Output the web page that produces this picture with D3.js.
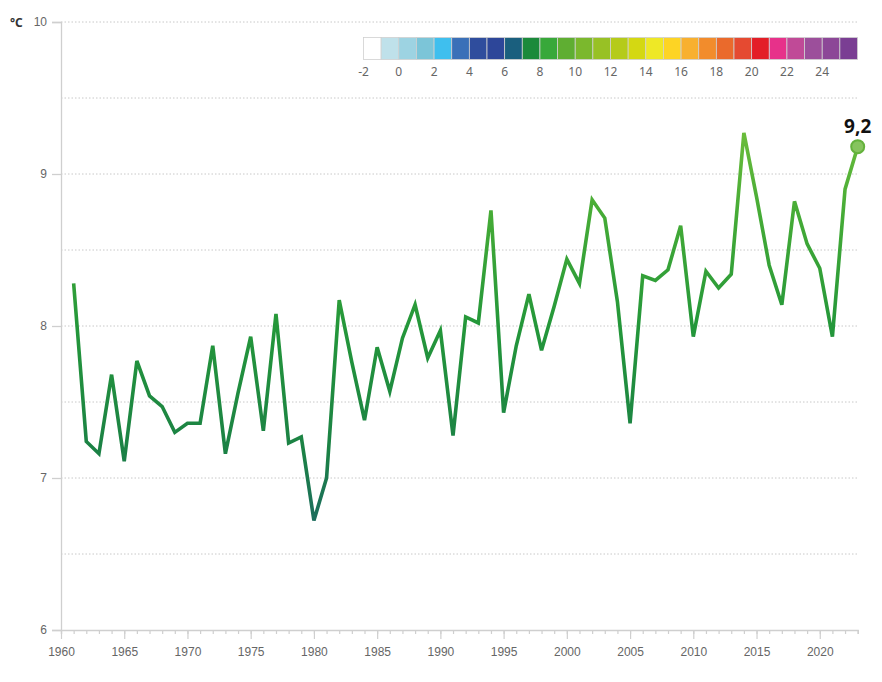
<!DOCTYPE html>
<html>
<head>
<meta charset="utf-8">
<script src="https://cdn.jsdelivr.net/npm/d3@7"></script>
<style>
  html, body { margin: 0; padding: 0; background: #ffffff; }
  svg { display: block; font-family: "Noto Sans", "Open Sans", sans-serif; }
</style>
</head>
<body>
<svg id="chart" width="882" height="682"></svg>
<script>
// ---- data ----
const years = d3.range(1961, 2024);
const temps = [
  8.28, 7.24, 7.16, 7.68, 7.11, 7.77, 7.54, 7.47, 7.30, 7.36,
  7.36, 7.87, 7.16, 7.56, 7.93, 7.31, 8.08, 7.23, 7.27, 6.72,
  7.00, 8.17, 7.76, 7.38, 7.86, 7.57, 7.92, 8.14, 7.79, 7.97,
  7.28, 8.06, 8.02, 8.76, 7.43, 7.87, 8.21, 7.84, 8.13, 8.44,
  8.28, 8.83, 8.71, 8.16, 7.36, 8.33, 8.30, 8.37, 8.66, 7.93,
  8.36, 8.25, 8.34, 9.27, 8.85, 8.40, 8.14, 8.82, 8.54, 8.38,
  7.93, 8.90, 9.18
];
const yTicks = [6, 7, 8, 9, 10];
const xTickYears = d3.range(1960, 2021, 5);
const lastLabel = "9,2";
const unitLabel = "°C";
const legendBreaks = d3.range(-2, 27);          // boundaries -2 ... 26
const legendLabels = d3.range(-2, 25, 2);        // -2, 0, ..., 24
const legendColors = [
  "#ffffff", "#bfe1ea", "#9dd3e2", "#7cc5d8", "#3fbfee", "#3a70b8", "#2f4d9d",
  "#2d4699", "#1a5f7e", "#1b8a3b", "#38a83a", "#5fae32", "#7bb82d", "#98c125",
  "#b5cb1a", "#d4d812", "#eee826", "#fdd424", "#f8b02f", "#f28c2c", "#ea6a2c",
  "#e54a31", "#e31e27", "#e7318a", "#c04a97", "#9c4f9b", "#8c4797", "#7a3e93"
];

// ---- scales ----
const svg = d3.select("#chart");
const x = d3.scaleLinear().domain([1960, 2023]).range([61, 857.7]);
const y = d3.scaleLinear().domain([6, 10]).range([630, 22]);

// ---- gridlines (dotted, every 0.5) ----
const gridVals = d3.range(6.5, 10.01, 0.5);
svg.append("g").selectAll("line").data(gridVals).join("line")
  .attr("x1", x(1960)).attr("x2", x(2023))
  .attr("y1", d => y(d)).attr("y2", d => y(d))
  .attr("stroke", "#c8c8c8").attr("stroke-width", 1)
  .attr("stroke-dasharray", "1.5,2");

// ---- y axis ----
const yAxis = d3.axisLeft(y).tickValues(yTicks).tickSize(9).tickPadding(5)
  .tickFormat(d3.format("d"));
const gy = svg.append("g").attr("transform", `translate(${x(1960)},0)`).call(yAxis);
gy.select(".domain").attr("stroke", "#cfcfcf").attr("stroke-width", 1.3);
gy.selectAll(".tick line").attr("stroke", "#cfcfcf").attr("stroke-width", 1.3);
gy.selectAll(".tick text").attr("fill", "#666").style("font-size", "12px");

svg.append("text").attr("x", 10).attr("y", y(10) + 5)
  .attr("fill", "#333").style("font-size", "12px").style("font-weight", "bold")
  .text(unitLabel);

// ---- x axis ----
const gxMinor = svg.append("g").attr("transform", `translate(0,${y(6)})`)
  .call(d3.axisBottom(x).tickValues(d3.range(1960, 2024)).tickSize(4).tickFormat(""));
gxMinor.select(".domain").attr("stroke", "#cfcfcf").attr("stroke-width", 1.3);
gxMinor.selectAll(".tick line").attr("stroke", "#cfcfcf").attr("stroke-width", 1.2);

const gx = svg.append("g").attr("transform", `translate(0,${y(6)})`)
  .call(d3.axisBottom(x).tickValues(xTickYears).tickSize(9).tickPadding(8)
    .tickFormat(d3.format("d")));
gx.select(".domain").remove();
gx.selectAll(".tick line").attr("stroke", "#cfcfcf").attr("stroke-width", 1.2);
gx.selectAll(".tick text").attr("fill", "#666").style("font-size", "12px");

// ---- gradient for line ----
const defs = svg.append("defs");
const grad = defs.append("linearGradient").attr("id", "lineGrad")
  .attr("gradientUnits", "userSpaceOnUse")
  .attr("x1", 0).attr("x2", 0)
  .attr("y1", y(6.7)).attr("y2", y(9.3));
[[0, "#1c6c5e"], [0.18, "#1b8145"], [0.5, "#24973a"], [0.78, "#45ab36"], [1, "#6cbd3b"]]
  .forEach(([o, c]) => grad.append("stop").attr("offset", o).attr("stop-color", c));

const data = years.map((yr, i) => ({ yr, v: temps[i] }));
const line = d3.line().x(d => x(d.yr)).y(d => y(d.v));
svg.append("path").datum(data)
  .attr("d", line)
  .attr("fill", "none")
  .attr("stroke", "url(#lineGrad)")
  .attr("stroke-width", 3.6)
  .attr("stroke-linejoin", "miter")
  .attr("stroke-miterlimit", 4);

// ---- last point ----
const last = data[data.length - 1];
svg.append("circle").attr("cx", x(last.yr)).attr("cy", y(last.v)).attr("r", 6.5)
  .attr("fill", "#86c45e").attr("stroke", "#64b23c").attr("stroke-width", 2);
svg.append("text").attr("x", x(last.yr)).attr("y", y(last.v) - 14)
  .attr("text-anchor", "middle").attr("fill", "#111")
  .style("font-size", "19px").style("font-weight", "bold")
  .text(lastLabel);

// ---- colour legend ----
const lx = d3.scaleLinear().domain([-2, 26]).range([363.5, 857.5]);
const lg = svg.append("g");
lg.selectAll("rect").data(legendColors).join("rect")
  .attr("x", (d, i) => lx(legendBreaks[i]))
  .attr("y", 37.5)
  .attr("width", (d, i) => lx(legendBreaks[i + 1]) - lx(legendBreaks[i]))
  .attr("height", 22)
  .attr("fill", d => d)
  .attr("stroke", "#d0d0d0").attr("stroke-width", 0.8);
lg.selectAll("text").data(legendLabels).join("text")
  .attr("x", d => lx(d)).attr("y", 76)
  .attr("text-anchor", "middle").attr("fill", "#666")
  .style("font-size", "12px")
  .text(d => d);
</script>
</body>
</html>
